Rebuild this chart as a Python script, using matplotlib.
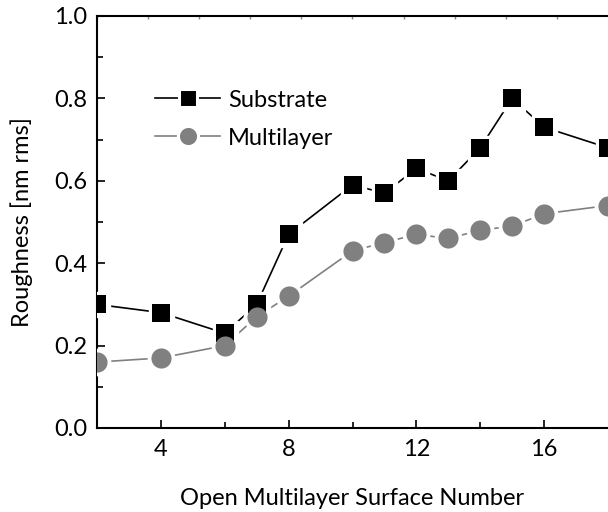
import numpy as np
import matplotlib
matplotlib.use('Agg')
import matplotlib.pyplot as plt
from matplotlib.lines import Line2D

# surface numbers
surface = [2, 4, 6, 7, 8, 10, 11, 12, 13, 14, 15, 16, 18]
# roughness values (nm rms)
substrate = [0.30, 0.28, 0.23, 0.30, 0.47, 0.59, 0.57, 0.63, 0.60, 0.68, 0.80, 0.73, 0.68]
multilayer = [0.16, 0.17, 0.20, 0.27, 0.32, 0.43, 0.45, 0.47, 0.46, 0.48, 0.49, 0.52, 0.54]

plt.rcParams['font.family'] = ['Lato', 'DejaVu Sans']
fs = 17

fig = plt.figure(figsize=(6.08, 5.12), dpi=100)
ax = fig.add_axes([97/608, 1-428/512, 1-97/608, (428-16)/512])


def series(x, y, color, marker, ms):
    # line, white halo for the gap, then the marker itself
    ax.plot(x, y, '-', color=color, lw=1.2, zorder=2)
    ax.plot(x, y, ls='none', marker=marker, ms=ms + 4.5, mfc='white', mec='white', zorder=3)
    ax.plot(x, y, ls='none', marker=marker, ms=ms, mfc=color, mec=color, mew=0, zorder=4)


series(surface, substrate, 'black', 's', 13.5)
series(surface, multilayer, '#808080', 'o', 14.5)

ax.set_xlim(2, 18)
ax.set_ylim(0, 1.0)
ax.set_xticks([4, 8, 12, 16])
ax.set_xticks([6, 10, 14], minor=True)
ax.set_yticks([0.0, 0.2, 0.4, 0.6, 0.8, 1.0])
ax.set_yticklabels(['0.0', '0.2', '0.4', '0.6', '0.8', '1.0'])
ax.set_yticks([0.1, 0.3, 0.5, 0.7, 0.9], minor=True)
ax.tick_params(which='major', direction='in', length=6, width=1.2, labelsize=fs, pad=7)
ax.tick_params(which='minor', direction='in', length=4, width=1.2)
ax.tick_params(axis='x', pad=8)
for s in ['left', 'bottom', 'top']:
    ax.spines[s].set_linewidth(1.5)
ax.spines['right'].set_visible(False)

top = ax.secondary_xaxis('top')
top.set_xticks(np.arange(2, 18, 1.6))
top.tick_params(direction='in', length=2, width=1, color='#888888', labeltop=False)
top.spines['top'].set_visible(False)

ax.set_xlabel('Open Multilayer Surface Number', fontsize=fs, labelpad=20)
ax.set_ylabel('Roughness [nm rms]', fontsize=fs, labelpad=15)

h1 = Line2D([], [], color='black', lw=1.2, marker='s', ms=13.5, mfc='black', mec='white', mew=2.2)
h2 = Line2D([], [], color='#808080', lw=1.2, marker='o', ms=14.5, mfc='#808080', mec='white', mew=2.2)
ax.legend([h1, h2], ['Substrate', 'Multilayer'], loc='upper left', bbox_to_anchor=(0.072, 0.873),
          frameon=False, fontsize=fs, handlelength=2.75, handletextpad=0.34, labelspacing=0.72)

fig.savefig('out.png', dpi=100)
